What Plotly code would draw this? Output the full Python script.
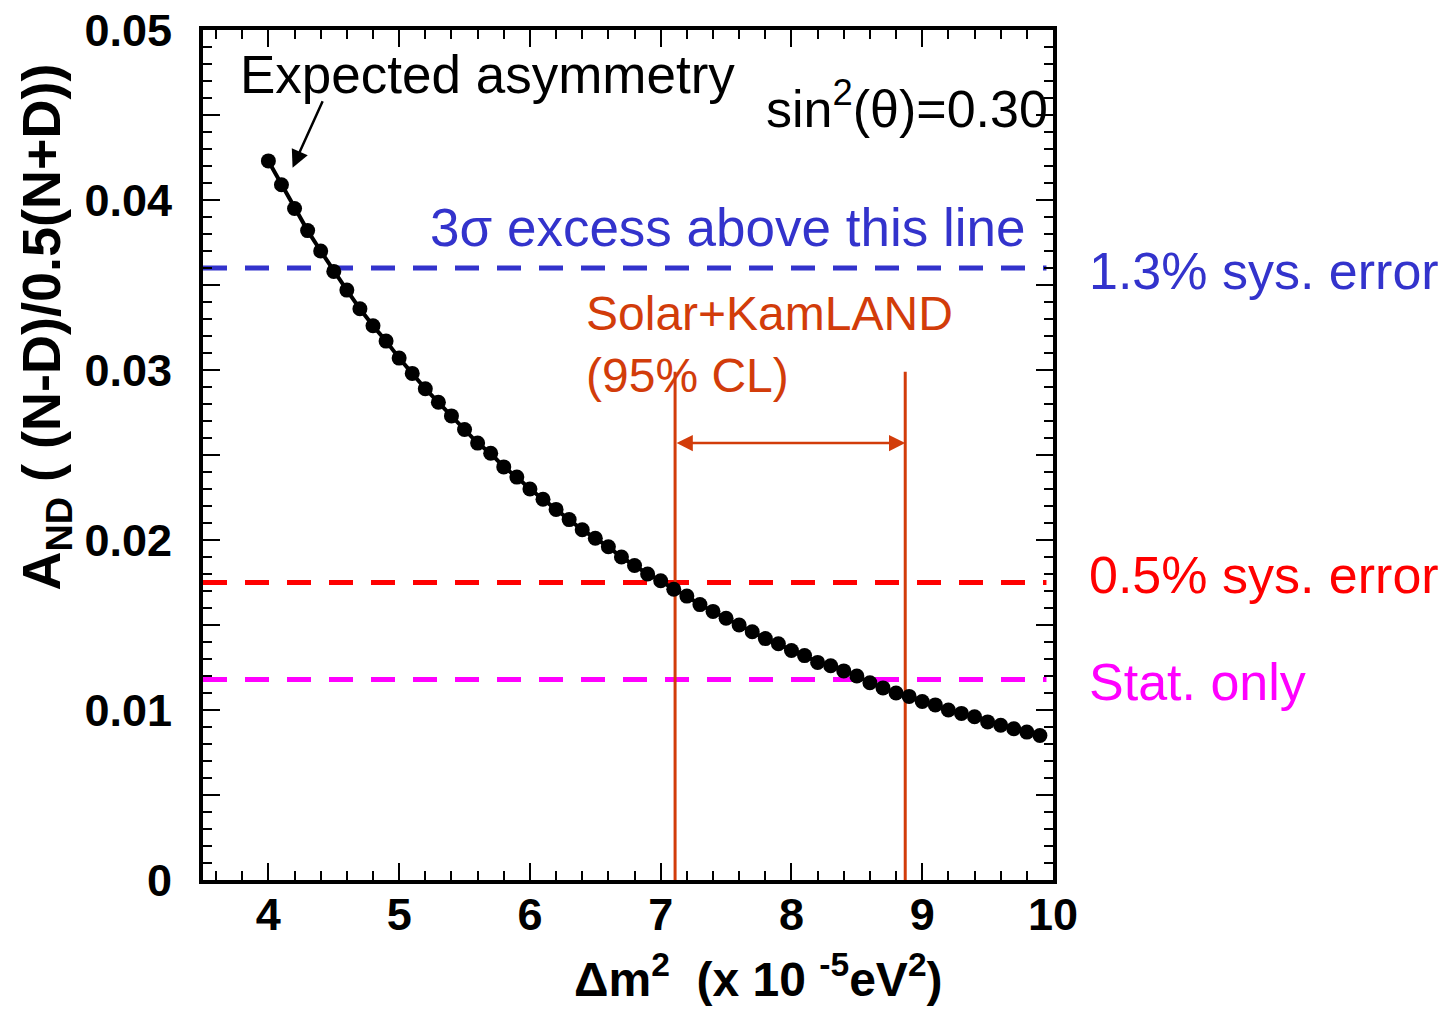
import plotly.graph_objects as go

# ---- data ----
dm2 = [round(4.0 + 0.1 * i, 1) for i in range(60)]  # 4.0 ... 9.9
asym = [0.0423, 0.0409, 0.0395, 0.0382, 0.0370, 0.0358, 0.0347, 0.0336, 0.0326, 0.0317,
        0.0307, 0.0298, 0.0289, 0.0281, 0.0273, 0.0265, 0.0257, 0.0251, 0.0243, 0.0237,
        0.0230, 0.0224, 0.0218, 0.0212, 0.0206, 0.0201, 0.0196, 0.0190, 0.0185, 0.0180,
        0.0176, 0.0171, 0.0167, 0.0162, 0.0158, 0.0154, 0.0150, 0.0146, 0.0142, 0.0139,
        0.0135, 0.0132, 0.0128, 0.0126, 0.0123, 0.0120, 0.0116, 0.0113, 0.0110, 0.0108,
        0.0105, 0.0103, 0.0100, 0.0098, 0.0096, 0.0093, 0.0091, 0.0089, 0.0087, 0.0085]

thresholds = [0.036, 0.0175, 0.0118]
threshold_labels = ["1.3% sys. error", "0.5% sys. error", "Stat. only"]
threshold_colors = ["#3333CC", "#FF0000", "#FF00FF"]
threshold_label_shift = [-3, 8, -3]

kamland_range = [7.11, 8.87]
kamland_top = 0.0299
kamland_arrow_y = 0.0257

x_ticks = [4, 5, 6, 7, 8, 9, 10]
y_ticks = [0, 0.005, 0.01, 0.015, 0.02, 0.025, 0.03, 0.035, 0.04, 0.045, 0.05]
y_ticktext = ["0", "", "0.01", "", "0.02", "", "0.03", "", "0.04", "", "0.05"]

ORANGE = "#D23C0A"
FONT = "Liberation Sans, Arial, sans-serif"

fig = go.Figure()

# threshold dashed lines
for yv, col in zip(thresholds, threshold_colors):
    fig.add_trace(go.Scatter(x=[3.5, 9.95], y=[yv, yv], mode="lines",
                             line=dict(color=col, width=5, dash="24px,18px"),
                             hoverinfo="skip", showlegend=False))

# KamLAND vertical lines
for xv in kamland_range:
    fig.add_trace(go.Scatter(x=[xv, xv], y=[-0.0003, kamland_top], mode="lines",
                             line=dict(color=ORANGE, width=3),
                             hoverinfo="skip", showlegend=False, cliponaxis=False))

# expected asymmetry curve
fig.add_trace(go.Scatter(x=dm2, y=asym, mode="lines+markers",
                         line=dict(color="black", width=4),
                         marker=dict(color="black", size=15),
                         showlegend=False, cliponaxis=False))

ann = []
# double arrow
ann.append(dict(x=kamland_range[1], y=kamland_arrow_y, ax=kamland_range[0], ay=kamland_arrow_y,
                xref="x", yref="y", axref="x", ayref="y", text="", showarrow=True,
                arrowhead=2, arrowside="end+start", arrowsize=1.3, arrowwidth=2.5, arrowcolor=ORANGE))
# expected asymmetry arrow
ann.append(dict(x=4.185, y=0.0419, ax=4.42, ay=0.0459, xref="x", yref="y", axref="x", ayref="y",
                text="", showarrow=True, arrowhead=2, arrowsize=1.4, arrowwidth=2.5, arrowcolor="black"))
ann.append(dict(x=3.767, y=0.0474, xref="x", yref="y", text="Expected asymmetry", showarrow=False,
                xanchor="left", yanchor="middle", font=dict(family=FONT, size=53, color="black")))
ann.append(dict(x=9.98, y=0.0456, xref="x", yref="y", text="sin<sup>2</sup>(θ)=0.30", showarrow=False,
                xanchor="right", yanchor="middle", font=dict(family=FONT, size=52, color="black")))
ann.append(dict(x=9.80, y=0.0384, xref="x", yref="y", text="3σ excess above this line", showarrow=False,
                xanchor="right", yanchor="middle", font=dict(family=FONT, size=53, color="#3333CC")))
ann.append(dict(x=6.41, y=0.0350, xref="x", yref="y", text="Solar+KamLAND<br>(95% CL)", showarrow=False,
                xanchor="left", yanchor="top", align="left", font=dict(family=FONT, size=48, color=ORANGE)))
for yv, lab, col, sh in zip(thresholds, threshold_labels, threshold_colors, threshold_label_shift):
    ann.append(dict(x=1.04, y=yv, xref="paper", yref="y", text=lab, showarrow=False, yshift=sh,
                    xanchor="left", yanchor="middle", font=dict(family=FONT, size=52, color=col)))
# axis titles
ann.append(dict(x=0.653, y=-0.113, xref="paper", yref="paper",
                text="<b>Δm<sup>2</sup>  (x 10 <sup>-5</sup>eV<sup>2</sup>)</b>", showarrow=False,
                xanchor="center", yanchor="middle", font=dict(family=FONT, size=48, color="black")))
ann.append(dict(x=-0.186, y=0.651, xref="paper", yref="paper", textangle=-90,
                text="<b>A<sub>ND</sub> ( (N-D)/0.5(N+D))</b>", showarrow=False,
                xanchor="center", yanchor="middle", font=dict(family=FONT, size=54, color="black")))

axis_common = dict(showline=True, linecolor="black", linewidth=4, mirror="ticks",
                   ticks="inside", ticklen=17, tickwidth=2, tickcolor="black",
                   showgrid=False, zeroline=False, automargin=False,
                   tickfont=dict(family=FONT, size=45, color="black", weight="bold"))

fig.update_layout(
    width=1447, height=1011,
    margin=dict(l=203, r=394, t=30, b=131),
    paper_bgcolor="white", plot_bgcolor="white",
    showlegend=False,
    annotations=ann,
    xaxis=dict(range=[3.5, 10], tickmode="array", tickvals=x_ticks,
               minor=dict(tickmode="linear", tick0=0, dtick=0.2, ticks="inside", ticklen=9,
                          tickwidth=2, tickcolor="black"),
               ticklabelstandoff=-8, **axis_common),
    yaxis=dict(range=[0, 0.05], tickmode="array", tickvals=y_ticks, ticktext=y_ticktext,
               minor=dict(tickmode="linear", tick0=0, dtick=0.001, ticks="inside", ticklen=9,
                          tickwidth=2, tickcolor="black"),
               ticklabelstandoff=18, **axis_common),
)

fig.write_html("out.html")
